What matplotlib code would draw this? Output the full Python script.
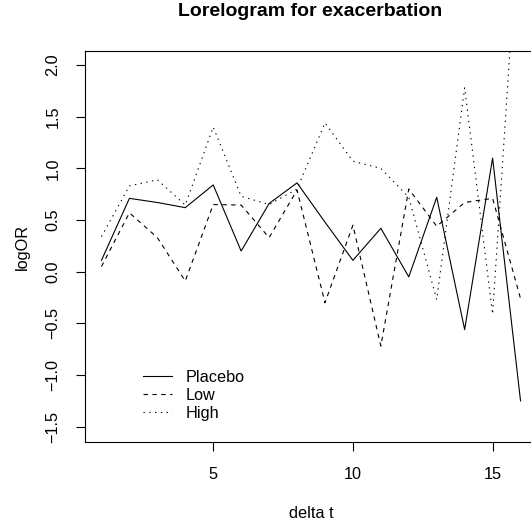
"""
Lorelogram for exacerbation - log odds ratio by time lag for three arms.
"""
import matplotlib
matplotlib.use("Agg")
import matplotlib.pyplot as plt

plt.rcParams["font.family"] = ["Liberation Sans", "DejaVu Sans"]

# lag values and log odds ratios
delta_t = list(range(1, 17))
placebo = [0.11, 0.71, 0.67, 0.62, 0.84, 0.20, 0.66, 0.86, 0.48, 0.11, 0.42, -0.05, 0.72, -0.56, 1.10, -1.25]
low     = [0.05, 0.57, 0.33, -0.09, 0.65, 0.645, 0.33, 0.79, -0.30, 0.45, -0.72, 0.80, 0.44, 0.67, 0.71, -0.26]
high    = [0.34, 0.83, 0.89, 0.645, 1.40, 0.73, 0.65, 0.80, 1.44, 1.07, 1.00, 0.72, -0.27, 1.78, -0.41, 3.70]

labels = ["Placebo", "Low", "High"]
styles = ["-", (0, (4, 4)), (0, (1.2, 4))]

W, H = 531, 525
FS = 11.7  # base text size (pt at 100 dpi)
fig = plt.figure(figsize=(W / 100, H / 100), dpi=100)
# plot box: left 84.7px, right ~537px (runs off the image), top 50.7px, bottom 442.3px
ax = fig.add_axes([84.7 / W, 1 - 442.3 / H, (537.3 - 84.7) / W, (442.3 - 50.7) / H])

for y, lab, ls in zip([placebo, low, high], labels, styles):
    ax.plot(delta_t, y, color="black", lw=0.8, ls=ls, label=lab)

ax.set_xlim(0.4, 16.6)
ax.set_ylim(-1.651, 2.139)
ax.set_xticks([5, 10, 15])
ax.set_yticks([-1.5, -1.0, -0.5, 0.0, 0.5, 1.0, 1.5, 2.0])
ax.set_yticklabels(["\u22121.5", "\u22121.0", "\u22120.5", "0.0", "0.5", "1.0", "1.5", "2.0"],
                   rotation=90, va="center")
ax.tick_params(axis="both", direction="out", length=6.5, width=0.8, labelsize=FS)
ax.tick_params(axis="x", pad=11.5)
ax.tick_params(axis="y", pad=11)
for s in ax.spines.values():
    s.set_linewidth(0.8)

ax.set_xlabel("delta t", fontsize=FS, labelpad=17)
ax.set_ylabel("logOR", fontsize=FS, labelpad=11)
fig.text(310 / W, 1 - 12 / H, "Lorelogram for exacerbation", ha="center", va="center",
         fontsize=14, fontweight="bold")

ax.legend(loc="upper left", bbox_to_anchor=(137 / W, 1 - 363 / H), bbox_transform=fig.transFigure,
          frameon=False, fontsize=FS, handlelength=1.75, handletextpad=0.85,
          labelspacing=0.2, borderaxespad=0)

fig.savefig("out.png", dpi=100)
